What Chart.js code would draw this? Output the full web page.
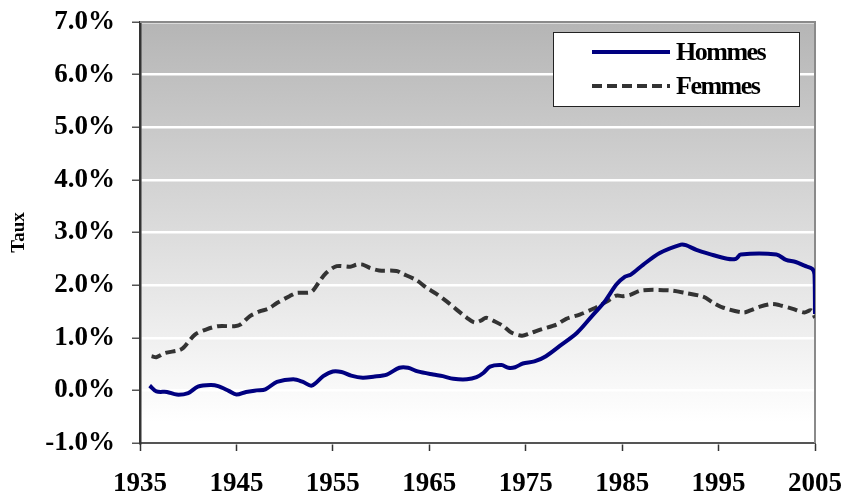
<!DOCTYPE html>
<html>
<head>
<meta charset="utf-8">
<script src="https://cdn.jsdelivr.net/npm/chart.js@4.4.0/dist/chart.umd.min.js"></script>
<style>
  html, body { margin: 0; padding: 0; background: #fff; }
  #wrap { width: 846px; height: 493px; position: relative; }
</style>
</head>
<body>
<div id="wrap"><canvas id="taux-chart"></canvas></div>
<script>
// values (year, rate in %)
const hommesYears = [1936.0, 1936.7, 1937.8, 1938.8, 1940.0, 1941.0, 1942.3, 1943.1, 1944.2, 1945.0,
  1946.0, 1947.1, 1948.0, 1949.2, 1950.9, 1951.9, 1952.8, 1954.0, 1955.0, 1955.9,
  1956.9, 1958.1, 1959.2, 1960.6, 1961.9, 1962.8, 1963.8, 1965.4, 1966.4, 1967.5,
  1968.9, 1969.9, 1970.6, 1971.3, 1972.5, 1973.2, 1973.9, 1974.7, 1975.9, 1977.1,
  1978.5, 1980.3, 1982.0, 1983.2, 1984.4, 1985.3, 1985.9, 1987.2, 1988.9, 1991.1,
  1991.6, 1992.7, 1994.1, 1995.9, 1996.8, 1997.3, 2001.0, 2002.0, 2003.0, 2003.9,
  2004.7, 2004.95, 2005.0];
const hommesValues = [0.09, -0.02, -0.03, -0.08, -0.05, 0.07, 0.10, 0.08, -0.01, -0.08,
  -0.03, 0.00, 0.02, 0.16, 0.21, 0.16, 0.09, 0.27, 0.36, 0.35,
  0.28, 0.24, 0.26, 0.30, 0.43, 0.43, 0.36, 0.30, 0.27, 0.22,
  0.21, 0.25, 0.33, 0.45, 0.48, 0.43, 0.44, 0.51, 0.55, 0.65,
  0.84, 1.09, 1.44, 1.69, 2.01, 2.16, 2.20, 2.39, 2.61, 2.77,
  2.76, 2.67, 2.59, 2.50, 2.50, 2.58, 2.58, 2.48, 2.44, 2.37,
  2.31, 2.20, 1.45];

const femmesYears = [1936.2, 1936.7, 1937.6, 1939.0, 1939.5, 1940.7, 1941.9, 1943.1, 1944.8, 1945.4,
  1946.4, 1947.4, 1948.3, 1949.2, 1950.5, 1951.2, 1952.6, 1953.0, 1953.5, 1954.3,
  1955.4, 1956.8, 1957.5, 1958.1, 1958.8, 1959.8, 1961.6, 1962.2, 1963.7, 1964.7,
  1965.7, 1966.8, 1967.8, 1968.9, 1969.7, 1970.4, 1970.9, 1971.8, 1972.7, 1973.5,
  1974.6, 1975.4, 1976.6, 1978.2, 1979.2, 1980.6, 1982.0, 1983.4, 1984.4, 1985.1,
  1985.9, 1987.0, 1989.9, 1991.6, 1993.4, 1994.4, 1995.5, 1997.6, 1998.3, 1999.3,
  2000.5, 2001.3, 2002.7, 2003.9, 2004.6, 2005.0];
const femmesValues = [0.65, 0.63, 0.71, 0.76, 0.81, 1.06, 1.16, 1.22, 1.22, 1.25,
  1.41, 1.50, 1.55, 1.66, 1.79, 1.85, 1.86, 1.91, 2.04, 2.23,
  2.36, 2.35, 2.39, 2.39, 2.33, 2.28, 2.27, 2.22, 2.09, 1.95,
  1.84, 1.69, 1.54, 1.38, 1.29, 1.33, 1.38, 1.31, 1.22, 1.10,
  1.04, 1.08, 1.16, 1.25, 1.36, 1.44, 1.55, 1.69, 1.80, 1.79,
  1.82, 1.90, 1.90, 1.85, 1.78, 1.67, 1.57, 1.48, 1.52, 1.59,
  1.64, 1.62, 1.55, 1.48, 1.52, 1.38];

const xTicks = [1935, 1945, 1955, 1965, 1975, 1985, 1995, 2005];
const yTicks = [-1, 0, 1, 2, 3, 4, 5, 6, 7];

const serif = "'Liberation Serif', 'Times New Roman', serif";

const toPoints = (xs, ys) => xs.map((x, i) => ({ x: x, y: ys[i] }));

// gradient fill behind the plot + grey top/right frame
const plotBackground = {
  id: 'plotBackground',
  beforeDraw(chart) {
    const { ctx, chartArea: a } = chart;
    const g = ctx.createLinearGradient(0, a.top, 0, a.top + (a.bottom - a.top) * 0.95);
    g.addColorStop(0, '#b5b5b5');
    g.addColorStop(1, '#ffffff');
    ctx.save();
    ctx.fillStyle = g;
    ctx.fillRect(a.left, a.top, a.right - a.left, a.bottom - a.top);
    ctx.restore();
  },
  beforeDatasetsDraw(chart) {
    const { ctx, chartArea: a } = chart;
    ctx.save();
    ctx.strokeStyle = '#8a8a8a';
    ctx.lineWidth = 2;
    ctx.beginPath();
    ctx.moveTo(a.left, a.top);
    ctx.lineTo(a.right, a.top);
    ctx.lineTo(a.right, a.bottom);
    ctx.stroke();
    ctx.restore();
  }
};

// boxed legend inside the plot, top right
const boxLegend = {
  id: 'boxLegend',
  afterDraw(chart) {
    const { ctx } = chart;
    const x = 553, y = 32, w = 246, h = 74;
    ctx.save();
    ctx.fillStyle = '#fff';
    ctx.fillRect(x, y, w, h);
    ctx.strokeStyle = '#222';
    ctx.lineWidth = 1;
    ctx.strokeRect(x + 0.5, y + 0.5, w, h);
    chart.data.datasets.forEach((ds, i) => {
      const ly = y + 20 + i * 34;
      ctx.strokeStyle = ds.borderColor;
      ctx.lineWidth = ds.borderWidth;
      ctx.setLineDash(ds.borderDash || []);
      ctx.beginPath();
      ctx.moveTo(592, ly);
      ctx.lineTo(670, ly);
      ctx.stroke();
      ctx.setLineDash([]);
      ctx.fillStyle = '#000';
      ctx.font = 'bold 26px ' + serif;
      ctx.letterSpacing = '-1.5px';
      ctx.textBaseline = 'middle';
      ctx.fillText(ds.label, 676, ly + 1);
    });
    ctx.restore();
  }
};

const chartConfig = {
  type: 'line',
  data: {
    datasets: [
      {
        label: 'Hommes',
        data: toPoints(hommesYears, hommesValues),
        borderColor: '#000080',
        borderWidth: 4,
        pointRadius: 0,
        tension: 0.3,
        fill: false,
      },
      {
        label: 'Femmes',
        data: toPoints(femmesYears, femmesValues),
        borderColor: '#333333',
        borderWidth: 4,
        borderDash: [10, 5],
        pointRadius: 0,
        tension: 0.3,
        fill: false,
      },
    ],
  },
  options: {
    responsive: false,
    animation: false,
    layout: { padding: { left: 8, right: 31, top: 22, bottom: 0 } },
    plugins: {
      legend: { display: false },
      tooltip: { enabled: false },
    },
    scales: {
      x: {
        type: 'linear',
        min: 1935,
        max: 2005,
        afterBuildTicks: (scale) => { scale.ticks = xTicks.map(v => ({ value: v })); },
        afterFit: (scale) => {
          scale.height = 50;
          scale.paddingLeft = 0;
          scale.paddingRight = 0;
        },
        grid: { drawOnChartArea: false, drawTicks: true, tickLength: 8, tickColor: '#333', tickWidth: 1.5 },
        border: { color: '#555', width: 2 },
        ticks: {
          color: '#000',
          padding: 17,
          maxRotation: 0,
          font: { family: serif, size: 27, weight: 'bold' },
          callback: (v) => String(v),
        },
      },
      y: {
        min: -1,
        max: 7,
        afterBuildTicks: (scale) => { scale.ticks = yTicks.map(v => ({ value: v })); },
        afterFit: (scale) => {
          scale.width = 132;
          scale.paddingTop = 0;
          scale.paddingBottom = 0;
        },
        grid: { color: '#ffffff', lineWidth: 2.5, drawTicks: true, tickLength: 8, tickColor: '#555', tickWidth: 1.5 },
        border: { color: '#333', width: 2.5 },
        title: {
          display: true,
          text: 'Taux',
          color: '#000',
          padding: { top: 0, bottom: 0 },
          font: { family: serif, size: 19, weight: 'bold' },
        },
        ticks: {
          color: '#000',
          padding: 17,
          font: { family: serif, size: 27, weight: 'bold' },
          callback: (v) => v.toFixed(1) + '%',
        },
      },
    },
  },
  plugins: [plotBackground, boxLegend],
};

const canvas = document.getElementById('taux-chart');
canvas.width = 846;
canvas.height = 493;
new Chart(canvas.getContext('2d'), chartConfig);
</script>
</body>
</html>
